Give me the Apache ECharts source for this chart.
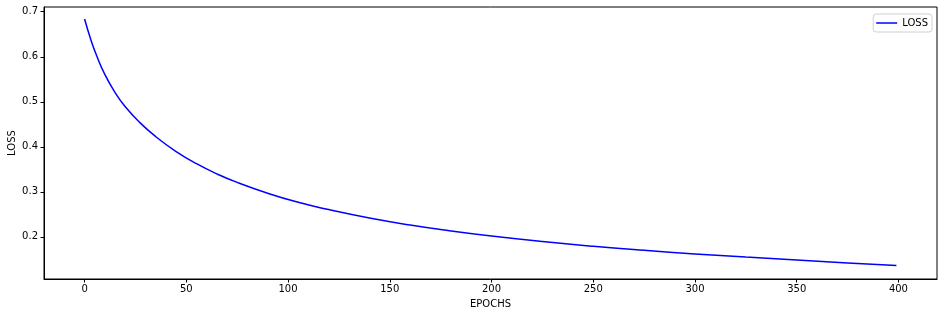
<!DOCTYPE html>
<html>
<head>
<meta charset="utf-8">
<script src="https://cdn.jsdelivr.net/npm/echarts@6/dist/echarts.min.js"></script>
<style>
html,body{margin:0;padding:0;background:#fff;}
#chart{width:944px;height:317px;}
</style>
</head>
<body>
<div id="chart"></div>
<script>
const epochs = [0, 3, 6, 10, 15, 20, 27, 35, 45, 55, 65, 75, 90, 105, 120, 140, 160, 180, 200, 225, 250, 275, 300, 325, 350, 375, 399];
const lossValues = [0.684, 0.639, 0.6015, 0.5603, 0.5203, 0.4888, 0.4545, 0.4225, 0.3895, 0.3625, 0.340, 0.321, 0.297, 0.2768, 0.2606, 0.242, 0.2264, 0.2132, 0.2018, 0.1896, 0.1791, 0.1701, 0.1621, 0.1551, 0.1486, 0.1423, 0.1365];
const xTicks = [0, 50, 100, 150, 200, 250, 300, 350, 400];
const yTicks = [0.2, 0.3, 0.4, 0.5, 0.6, 0.7];
const seriesName = 'LOSS';
const xName = 'EPOCHS';
const yName = 'LOSS';

const chart = echarts.init(document.getElementById('chart'), null, {renderer: 'canvas'});
const font = 'DejaVu Sans';
const data = epochs.map((e, i) => [e, lossValues[i]]);
const xMin = -19.95, xMax = 418.95;
const yMin = 0.1065, yMax = 0.7105;

chart.setOption({
  animation: false,
  backgroundColor: '#fff',
  textStyle: {fontFamily: font},
  grid: {left: 44, top: 7, right: 7, bottom: 38, containLabel: false, outerBoundsMode: 'none',
         show: true, borderColor: '#000', borderWidth: 1, backgroundColor: 'transparent'},
  legend: {
    right: 12, top: 14,
    data: [{name: seriesName, icon: 'rect'}],
    itemWidth: 21, itemHeight: 1.5,
    textStyle: {fontFamily: font, fontSize: 10, color: '#000'},
    borderColor: '#d0d0d0', borderWidth: 1, borderRadius: 3,
    padding: [4, 4, 4, 3], itemGap: 6,
    backgroundColor: 'rgba(255,255,255,0.8)'
  },
  xAxis: {
    type: 'value', min: xMin, max: xMax,
    name: xName, nameLocation: 'middle', nameGap: 20, nameMoveOverlap: false,
    nameTextStyle: {fontFamily: font, fontSize: 10, color: '#000'},
    splitLine: {show: false},
    axisLine: {show: true, onZero: false, lineStyle: {color: '#000', width: 1}},
    axisTick: {show: true, inside: false, length: 3.5, lineStyle: {color: '#000'}, customValues: xTicks},
    axisLabel: {fontFamily: font, fontSize: 10, color: '#000', margin: 5, customValues: xTicks, formatter: v => String(v)}
  },
  yAxis: {
    type: 'value', min: yMin, max: yMax,
    name: yName, nameLocation: 'middle', nameGap: 27, nameRotate: 90, nameMoveOverlap: false,
    nameTextStyle: {fontFamily: font, fontSize: 10, color: '#000'},
    splitLine: {show: false},
    axisLine: {show: true, onZero: false, lineStyle: {color: '#000', width: 1}},
    axisTick: {show: true, inside: false, length: 3.5, lineStyle: {color: '#000'}, customValues: yTicks},
    axisLabel: {fontFamily: font, fontSize: 10, color: '#000', margin: 6, customValues: yTicks, formatter: v => v.toFixed(1)}
  },
  series: [{
    name: seriesName, type: 'line', data: data,
    smooth: 0.5,
    symbol: 'none', showSymbol: false,
    color: '#0000ff',
    lineStyle: {color: '#0000ff', width: 1.5}
  }]
});
</script>
</body>
</html>
